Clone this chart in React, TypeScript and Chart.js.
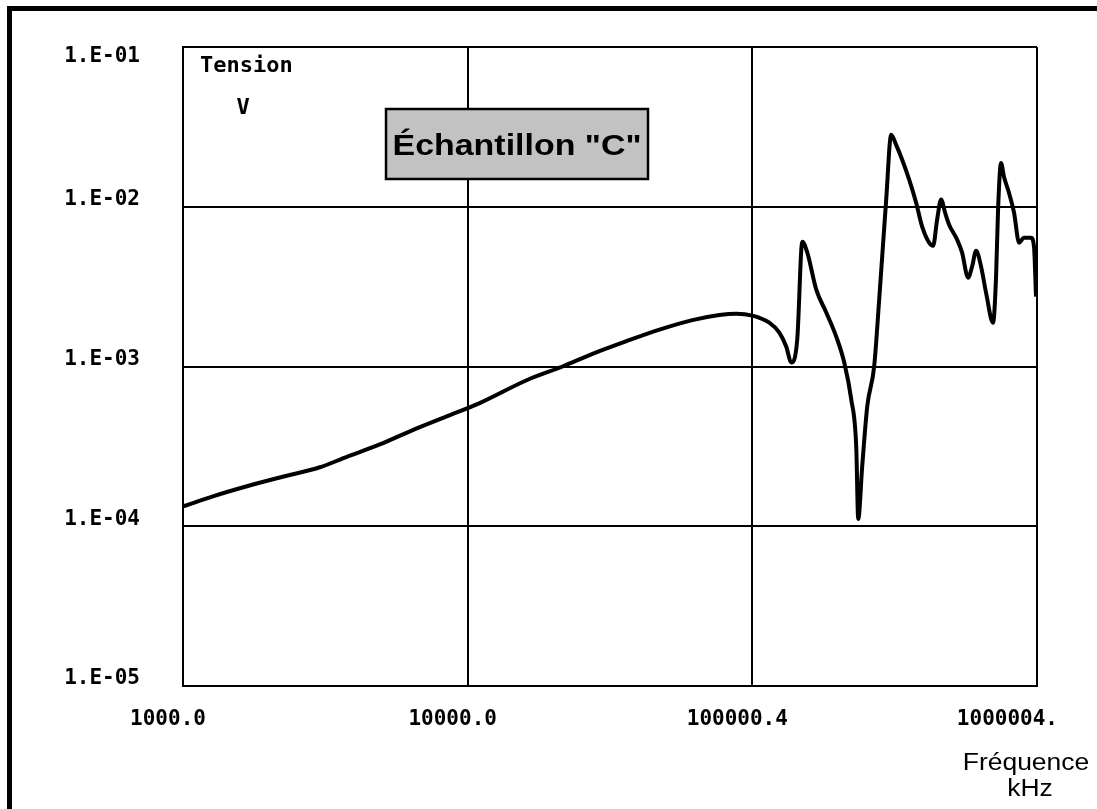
import React, { useEffect, useRef } from "react";
import { Chart, registerables } from "chart.js";

Chart.register(...registerables);

// Frequency (kHz) and voltage (V)
const frequencyKHz = [
  1000, 1274, 1677, 2190, 3025, 3762, 4912, 6412, 8440, 11020,
  16110, 21540, 27450, 36130, 47180, 61590, 76580, 87870, 100000, 114700,
  124400, 131600, 137000, 143800, 149800, 156000, 167700, 181800, 197100, 210300,
  222600, 231700, 235500, 243200, 253300, 267900, 279000, 295300, 307400, 320000,
  336000, 355600, 376200, 395000, 417800, 431600, 445800, 460500, 475600, 491300,
  524100, 545600, 572700, 591500, 610900, 636200, 662200, 700800, 718100, 729800,
  747500, 765600, 797500, 830600, 865100, 900300, 952700, 976100, 992000,
];

const tensionV = [
  1.33e-4, 1.54e-4, 1.78e-4, 2.02e-4, 2.34e-4, 2.72e-4, 3.25e-4, 4.0e-4, 4.87e-4, 5.9e-4,
  8.2e-4, 1.0e-3, 1.2e-3, 1.44e-3, 1.7e-3, 1.95e-3, 2.1e-3, 2.14e-3, 2.08e-3, 1.88e-3,
  1.63e-3, 1.33e-3, 1.06e-3, 1.48e-3, 6.04e-3, 5.16e-3, 3.03e-3, 2.18e-3, 1.54e-3, 1.06e-3,
  6.22e-4, 3.16e-4, 1.11e-4, 2.37e-4, 5.62e-4, 1.0e-3, 2.62e-3, 1.11e-2, 2.82e-2, 2.44e-2,
  1.97e-2, 1.48e-2, 1.06e-2, 7.5e-3, 5.96e-3, 5.7e-3, 8.3e-3, 1.11e-2, 9.17e-3, 7.72e-3,
  6.22e-3, 5.16e-3, 3.6e-3, 4.22e-3, 5.31e-3, 4.22e-3, 2.9e-3, 1.88e-3, 3.65e-3, 9.58e-3,
  1.88e-2, 1.54e-2, 1.22e-2, 9.17e-3, 5.96e-3, 6.4e-3, 6.4e-3, 5.62e-3, 2.74e-3,
];

const xTickValues = [1000, 10000, 100000, 1000000];
const xTickLabels = ["1000.0", "10000.0", "100000.4", "1000004."];
const yTickValues = [1e-5, 1e-4, 1e-3, 1e-2, 1e-1];
const yTickLabels = ["1.E-05", "1.E-04", "1.E-03", "1.E-02", "1.E-01"];

const titleText = 'Échantillon "C"';
const yAxisTitleLines = ["Tension", "V"];
const xAxisTitleLines = ["Fréquence", "kHz"];

const MONO = 'bold 21px "DejaVu Sans Mono", monospace';
const SANS = '"Liberation Sans", Arial, sans-serif';

const overlayPlugin = {
  id: "overlay",
  afterDraw(chart: any) {
    const ctx: CanvasRenderingContext2D = chart.ctx;
    const area = chart.chartArea;
    const xs = chart.scales.x;
    const ys = chart.scales.y;
    ctx.save();

    // outer frame (left and top thick borders)
    ctx.fillStyle = "#000";
    ctx.fillRect(7, 6, 5, 803);
    ctx.fillRect(7, 6, 1090, 5);

    // y tick labels
    ctx.font = MONO;
    ctx.fillStyle = "#000";
    ctx.textAlign = "right";
    ctx.textBaseline = "middle";
    yTickValues.forEach((v, i) => {
      const py = Math.max(ys.getPixelForValue(v) - 7, area.top + 10);
      ctx.fillText(yTickLabels[i], area.left - 43, py);
    });

    // x tick labels
    ctx.textAlign = "center";
    xTickValues.forEach((v, i) => {
      const w = ctx.measureText(xTickLabels[i]).width;
      let cx = xs.getPixelForValue(v) - 15;
      if (cx + w / 2 > area.right + 21) cx = area.right + 21 - w / 2;
      ctx.fillText(xTickLabels[i], cx, 720);
    });

    // y axis title inside plot
    ctx.font = 'bold 22px "DejaVu Sans Mono", monospace';
    ctx.textAlign = "left";
    ctx.fillText(yAxisTitleLines[0], area.left + 17, 66);
    ctx.textAlign = "center";
    ctx.fillText(yAxisTitleLines[1], area.left + 60, 108);

    // title box
    const bx = 386, by = 109, bw = 262, bh = 70;
    ctx.fillStyle = "#c2c2c2";
    ctx.fillRect(bx, by, bw, bh);
    ctx.strokeStyle = "#000";
    ctx.lineWidth = 2.5;
    ctx.strokeRect(bx, by, bw, bh);
    ctx.fillStyle = "#000";
    ctx.font = `bold 29px ${SANS}`;
    ctx.textAlign = "center";
    ctx.textBaseline = "alphabetic";
    ctx.save();
    ctx.translate(bx + bw / 2, 155);
    ctx.scale(1.17, 1);
    ctx.fillText(titleText, 0, 0);
    ctx.restore();

    // x axis title
    ctx.font = `23px ${SANS}`;
    ctx.save();
    ctx.translate(1026, 770);
    ctx.scale(1.15, 1);
    ctx.fillText(xAxisTitleLines[0], 0, 0);
    ctx.restore();
    ctx.save();
    ctx.translate(1030, 796);
    ctx.scale(1.15, 1);
    ctx.fillText(xAxisTitleLines[1], 0, 0);
    ctx.restore();

    ctx.restore();
  },
};

export default function App() {
  const canvasRef = useRef<HTMLCanvasElement | null>(null);

  useEffect(() => {
    const canvas = canvasRef.current;
    if (!canvas) return;
    const chart = new Chart(canvas, {
      type: "scatter",
      data: {
        datasets: [
          {
            data: frequencyKHz.map((f, i) => ({ x: f, y: tensionV[i] })),
            showLine: true,
            borderColor: "#000",
            borderWidth: 4,
            pointRadius: 0,
            pointHoverRadius: 0,
            cubicInterpolationMode: "monotone",
            fill: false,
          } as any,
        ],
      },
      options: {
        responsive: false,
        animation: false,
        devicePixelRatio: 1,
        layout: { padding: { top: 47, right: 60, left: 0, bottom: 0 } },
        plugins: {
          legend: { display: false },
          tooltip: { enabled: false },
          title: { display: false },
        },
        scales: {
          x: {
            type: "logarithmic",
            min: 1000,
            max: 1000000,
            afterBuildTicks: (s: any) => {
              s.ticks = xTickValues.map((v) => ({ value: v }));
            },
            afterFit: (s: any) => {
              s.height = 123;
            },
            ticks: { display: false },
            grid: { color: "#000", lineWidth: 2, drawTicks: false },
            border: { color: "#000", width: 2 },
          },
          y: {
            type: "logarithmic",
            min: 1e-5,
            max: 1e-1,
            afterBuildTicks: (s: any) => {
              s.ticks = yTickValues.map((v) => ({ value: v }));
            },
            afterFit: (s: any) => {
              s.width = 183;
            },
            ticks: { display: false },
            grid: { color: "#000", lineWidth: 2, drawTicks: false },
            border: { color: "#000", width: 2 },
          },
        },
      } as any,
      plugins: [overlayPlugin],
    });
    return () => chart.destroy();
  }, []);

  return (
    <div
      style={{
        position: "fixed",
        left: 0,
        top: 0,
        width: 1097,
        height: 809,
        background: "#fff",
        overflow: "hidden",
      }}
    >
      <canvas ref={canvasRef} width={1097} height={809} style={{ display: "block" }} />
    </div>
  );
}
